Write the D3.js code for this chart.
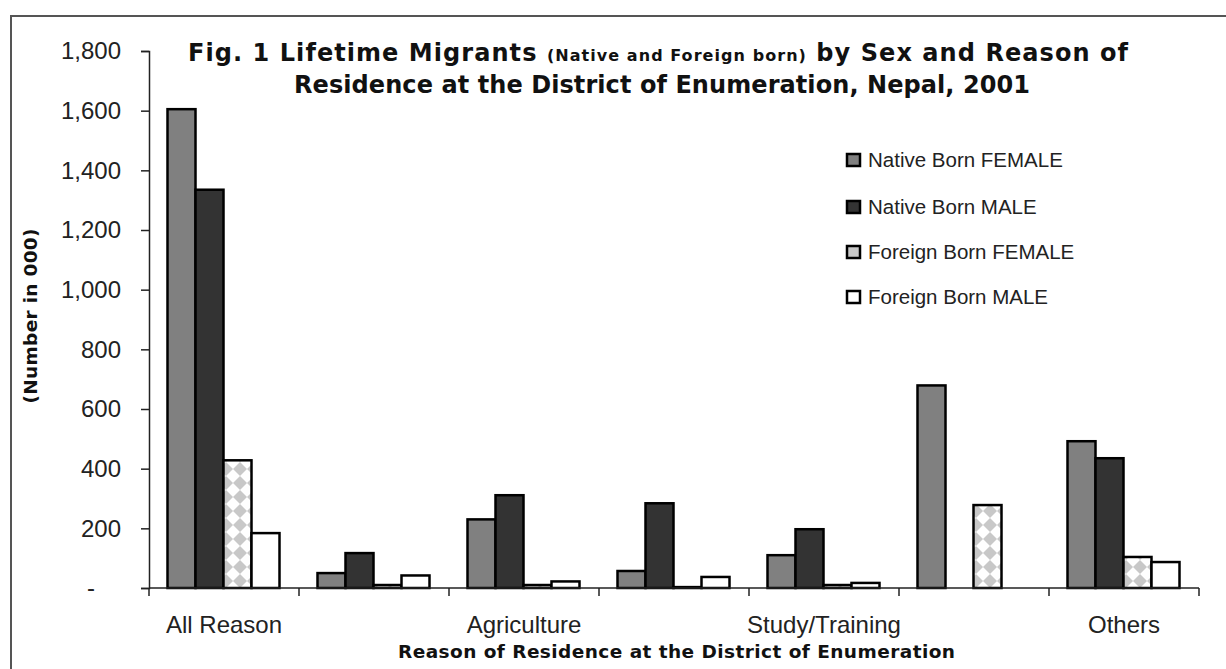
<!DOCTYPE html>
<html>
<head>
<meta charset="utf-8">
<script src="https://cdn.jsdelivr.net/npm/d3@7"></script>
<style>
  html, body { margin: 0; padding: 0; background: #fff; }
  svg { display: block; }
  text { font-family: "Liberation Sans", Arial, sans-serif; }
  .bt { font-family: "DejaVu Sans", sans-serif; font-weight: bold; }
</style>
</head>
<body>
<svg id="chart" width="1226" height="669"></svg>
<script>
// ---- data ----
const categories = ["All Reason", "Trade/Business", "Agriculture", "Service", "Study/Training", "Marriage", "Others"];
const shownLabels = ["All Reason", "Agriculture", "Study/Training", "Others"];
const seriesNames = ["Native Born FEMALE", "Native Born MALE", "Foreign Born FEMALE", "Foreign Born MALE"];
const nativeFemale  = [1605, 50, 230, 57, 110, 679, 492];
const nativeMale    = [1335, 117, 311, 284, 197, 0, 435];
const foreignFemale = [428, 10, 10, 3, 10, 278, 104];
const foreignMale   = [184, 42, 22, 37, 17, 0, 87];
const yTicks = [0, 200, 400, 600, 800, 1000, 1200, 1400, 1600, 1800];

const seriesValues = [nativeFemale, nativeMale, foreignFemale, foreignMale];

const svg = d3.select("#chart");

// pattern for foreign born female
const defs = svg.append("defs");
const pat = defs.append("pattern").attr("id", "diamond")
  .attr("patternUnits", "userSpaceOnUse").attr("width", 14).attr("height", 14);
pat.append("rect").attr("width", 14).attr("height", 14).attr("fill", "#ffffff");
pat.append("path").attr("d", "M7,0 L14,7 L7,14 L0,7 Z").attr("fill", "#c8c8c8");

const fills = ["#808080", "#333333", "url(#diamond)", "#ffffff"];
const legendFills = ["#808080", "#333333", "#c8c8c8", "#ffffff"];

// outer frame
svg.append("rect").attr("x", 11).attr("y", 16).attr("width", 1240).attr("height", 700)
  .attr("fill", "none").attr("stroke", "#555").attr("stroke-width", 2);

const x0 = d3.scaleBand().domain(categories).range([149, 1199]).paddingInner(0).paddingOuter(0);
const x1 = d3.scaleBand().domain(seriesNames).range([18.5, 130.5]).padding(0);
const y = d3.scaleLinear().domain([0, 1800]).range([588, 51]);

// bars
const groups = svg.append("g").selectAll("g").data(categories).join("g")
  .attr("transform", d => `translate(${x0(d)},0)`);
groups.selectAll("rect")
  .data((c, ci) => seriesNames.map((s, si) => ({ s, si, v: seriesValues[si][ci] })).filter(d => d.v > 0))
  .join("rect")
  .attr("x", d => x1(d.s))
  .attr("width", x1.bandwidth())
  .attr("y", d => y(d.v))
  .attr("height", d => y(0) - y(d.v))
  .attr("fill", d => fills[d.si])
  .attr("stroke", "#000")
  .attr("stroke-width", 2.5);

// y axis
const yAxis = d3.axisLeft(y).tickValues(yTicks).tickSize(8).tickPadding(20)
  .tickFormat(d => d === 0 ? "-" : d3.format(",")(d));
const gy = svg.append("g").attr("transform", "translate(149,0)").call(yAxis);
gy.select(".domain").attr("stroke", "#222").attr("stroke-width", 1.5);
gy.selectAll(".tick line").attr("stroke", "#222").attr("stroke-width", 1.5);
gy.selectAll(".tick text").attr("font-size", 24).attr("fill", "#222")
  .attr("font-family", "'Liberation Sans', Arial, sans-serif")
  .attr("dx", d => d === 0 ? -26 : 0);

// x axis
const xAxis = d3.axisBottom(x0).tickSize(0).tickPadding(28)
  .tickFormat(d => shownLabels.includes(d) ? d : "");
const gx = svg.append("g").attr("transform", "translate(0,588)").call(xAxis);
gx.select(".domain").remove();
gx.append("line").attr("x1", 149).attr("x2", 1199).attr("y1", 0).attr("y2", 0)
  .attr("stroke", "#222").attr("stroke-width", 1.5);
gx.selectAll(".tick text").attr("font-size", 24).attr("fill", "#222")
  .attr("font-family", "'Liberation Sans', Arial, sans-serif")
  .attr("y", 28).attr("dy", "0.71em");
// category boundary ticks
gx.selectAll(".bound").data(categories.map(c => x0(c)).concat([1199])).join("line")
  .attr("class", "bound")
  .attr("x1", d => d).attr("x2", d => d).attr("y1", 0).attr("y2", 8)
  .attr("stroke", "#222").attr("stroke-width", 1.5);

// titles
const title = svg.append("text").attr("class", "bt").attr("x", 188).attr("y", 61)
  .attr("font-size", 24).attr("fill", "#111")
  .attr("textLength", 940).attr("lengthAdjust", "spacing");
title.append("tspan").text("Fig. 1  Lifetime Migrants ");
title.append("tspan").attr("font-size", 16).text("(Native and Foreign born)");
title.append("tspan").text(" by Sex and Reason of");
svg.append("text").attr("class", "bt").attr("x", 294).attr("y", 93)
  .attr("font-size", 24).attr("fill", "#111")
  .attr("textLength", 736).attr("lengthAdjust", "spacing")
  .text("Residence at the District of Enumeration, Nepal, 2001");

svg.append("text").attr("class", "bt").attr("transform", "translate(37,316) rotate(-90)")
  .attr("text-anchor", "middle").attr("font-size", 18.5)
  .attr("textLength", 175).attr("lengthAdjust", "spacing")
  .attr("fill", "#111").text("(Number in 000)");

svg.append("text").attr("class", "bt").attr("x", 398).attr("y", 658)
  .attr("font-size", 18.5).attr("fill", "#111")
  .attr("textLength", 557).attr("lengthAdjust", "spacing")
  .text("Reason of Residence at the District of Enumeration");

// legend
const legendY = [160, 207, 252, 297];
const lg = svg.append("g").selectAll("g").data(seriesNames).join("g")
  .attr("transform", (d, i) => `translate(846,${legendY[i]})`);
lg.append("rect").attr("x", 1).attr("y", -6).attr("width", 13).attr("height", 12)
  .attr("fill", (d, i) => legendFills[i]).attr("stroke", "#000").attr("stroke-width", 2.5);
lg.append("text").attr("x", 22).attr("y", 7).attr("font-size", 20.5).attr("fill", "#222")
  .text(d => d);
</script>
</body>
</html>
